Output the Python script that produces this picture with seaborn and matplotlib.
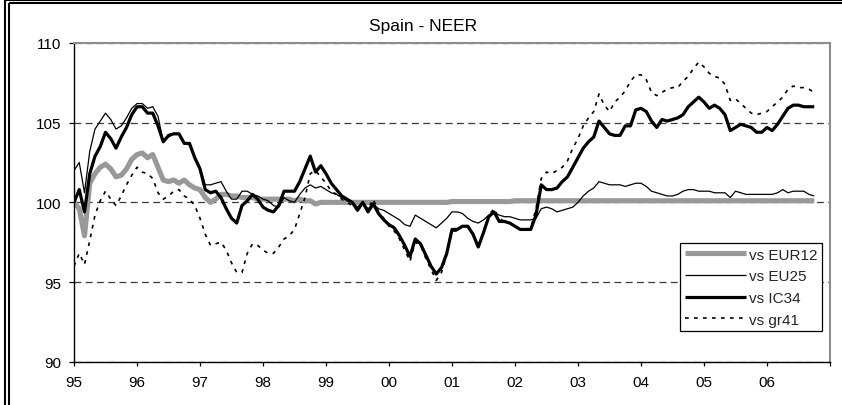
import numpy as np
import pandas as pd
import matplotlib
matplotlib.use("Agg")
import matplotlib.pyplot as plt
import seaborn as sns
from matplotlib.lines import Line2D

# ---------------- data (monthly, Jan 1995 - Oct 2006) ----------------
eur12 = [
    100.0, 99.6, 97.9, 101.2, 101.8, 102.2, 102.4, 102.1, 101.6, 101.7, 102.1, 102.7,   # 1995
    103.0, 103.1, 102.8, 103.0, 102.2, 101.4, 101.3, 101.4, 101.2, 101.4, 101.1, 100.9,  # 1996
    100.8, 100.3, 100.0, 100.2, 100.5, 100.5, 100.4, 100.4, 100.3, 100.3, 100.3, 100.2,  # 1997
    100.2, 100.2, 100.2, 100.2, 100.2, 100.2, 100.1, 100.2, 100.1, 100.1, 99.9, 100.0,   # 1998
    100.0, 100.0, 100.0, 100.0, 100.0, 100.0, 100.0, 100.0, 100.0, 100.0, 100.0, 100.0,  # 1999
    100.0, 100.0, 100.0, 100.0, 100.0, 100.0, 100.0, 100.0, 100.0, 100.0, 100.0, 100.0,  # 2000
    100.05, 100.05, 100.05, 100.05, 100.05, 100.05, 100.05, 100.05, 100.05, 100.05, 100.05, 100.05,  # 2001
    100.1, 100.1, 100.1, 100.1, 100.1, 100.1, 100.1, 100.1, 100.1, 100.1, 100.1, 100.1,  # 2002
    100.1, 100.1, 100.1, 100.1, 100.1, 100.1, 100.1, 100.1, 100.1, 100.1, 100.1, 100.1,  # 2003
    100.1, 100.1, 100.1, 100.1, 100.1, 100.1, 100.1, 100.1, 100.1, 100.1, 100.1, 100.1,  # 2004
    100.1, 100.1, 100.1, 100.1, 100.1, 100.1, 100.1, 100.1, 100.1, 100.1, 100.1, 100.1,  # 2005
    100.1, 100.1, 100.1, 100.1, 100.1, 100.1, 100.1, 100.1, 100.1, 100.1,                # 2006
]
eu25 = [
    102.0, 102.5, 100.6, 103.2, 104.6, 105.1, 105.6, 105.2, 104.6, 104.8, 105.3, 105.9,
    106.2, 106.2, 105.9, 106.0, 105.4, 103.8, 104.1, 104.3, 104.3, 103.7, 103.6, 102.9,
    102.2, 101.1, 101.1, 101.2, 101.3, 100.7, 100.2, 100.2, 100.7, 100.7, 100.5, 100.4,
    100.2, 100.1, 99.8, 99.7, 100.3, 100.1, 100.0, 100.5, 100.9, 101.1, 100.9, 101.0,
    100.8, 100.6, 100.5, 100.3, 100.1, 100.0, 99.7, 100.0, 99.6, 99.9, 99.6, 99.5,
    99.3, 99.1, 98.9, 98.6, 98.5, 99.2, 99.0, 98.8, 98.6, 98.4, 98.7, 99.0,
    99.4, 99.4, 99.3, 99.0, 98.8, 98.7, 98.9, 99.2, 99.3, 99.2, 99.1, 99.1,
    99.0, 98.9, 98.9, 98.9, 99.0, 99.6, 99.7, 99.6, 99.4, 99.5, 99.6, 99.7,
    100.0, 100.4, 100.7, 100.9, 101.3, 101.2, 101.1, 101.1, 101.1, 101.0, 101.1, 101.2,
    101.2, 101.0, 100.7, 100.6, 100.5, 100.4, 100.4, 100.5, 100.7, 100.8, 100.8, 100.7,
    100.7, 100.7, 100.6, 100.6, 100.6, 100.3, 100.7, 100.6, 100.5, 100.5, 100.5, 100.5,
    100.5, 100.5, 100.6, 100.8, 100.6, 100.7, 100.7, 100.7, 100.5, 100.4,
]
ic34 = [
    100.0, 100.8, 99.4, 101.8, 102.9, 103.5, 104.4, 104.0, 103.4, 104.1, 104.7, 105.5,
    106.0, 106.0, 105.6, 105.6, 104.8, 103.8, 104.2, 104.3, 104.3, 103.7, 103.7, 102.8,
    102.1, 100.8, 100.6, 100.7, 100.3, 99.6, 99.0, 98.7, 99.8, 100.1, 100.5, 100.2,
    99.7, 99.5, 99.4, 99.8, 100.7, 100.7, 100.7, 101.3, 102.1, 102.9, 101.9, 102.3,
    101.8, 101.2, 100.8, 100.4, 100.2, 100.0, 99.5, 100.0, 99.4, 99.9, 99.3, 98.9,
    98.6, 98.4, 97.9, 97.3, 96.6, 97.7, 97.4, 96.7, 96.0, 95.5, 95.9, 96.8,
    98.3, 98.3, 98.5, 98.5, 98.0, 97.2, 98.1, 99.1, 99.4, 98.8, 98.8, 98.7,
    98.5, 98.3, 98.3, 98.3, 99.2, 101.1, 100.8, 100.8, 100.9, 101.3, 101.6, 102.2,
    102.8, 103.4, 103.8, 104.1, 105.1, 104.7, 104.3, 104.2, 104.2, 104.8, 104.8, 105.8,
    105.9, 105.7, 105.1, 104.7, 105.2, 105.1, 105.2, 105.3, 105.5, 106.0, 106.3, 106.6,
    106.3, 105.9, 106.1, 105.9, 105.5, 104.5, 104.7, 104.9, 104.8, 104.7, 104.4, 104.4,
    104.7, 104.5, 104.9, 105.4, 105.9, 106.1, 106.1, 106.0, 106.0, 106.0,
]
gr41 = [
    96.0, 96.8, 96.1, 97.6, 99.2, 100.1, 100.7, 100.2, 99.8, 100.4, 101.1, 101.7,
    102.2, 101.9, 101.8, 101.5, 100.6, 100.2, 100.4, 100.7, 100.8, 100.4, 100.2, 99.8,
    99.0, 98.0, 97.3, 97.4, 97.5, 97.0, 96.2, 95.6, 95.6, 96.8, 97.4, 97.3,
    97.0, 96.8, 96.8, 97.2, 97.7, 97.9, 98.3, 99.3, 100.3, 101.8, 102.0, 101.6,
    101.2, 100.7, 100.5, 100.2, 100.0, 99.8, 99.6, 99.8, 99.6, 100.2, 99.4, 99.0,
    98.5, 98.2, 97.7, 97.0, 96.3, 97.5, 97.3, 96.5, 95.8, 95.1, 95.6, 96.7,
    98.2, 98.2, 98.5, 98.6, 98.0, 97.1, 98.2, 99.2, 99.6, 99.0, 98.8, 98.7,
    98.5, 98.3, 98.3, 98.4, 99.6, 101.5, 101.9, 101.8, 102.0, 102.2, 102.6, 103.4,
    104.0, 104.8, 105.3, 105.7, 106.8, 106.1, 105.7, 106.3, 106.6, 107.0, 107.6, 108.0,
    108.0, 107.7, 106.9, 106.7, 106.9, 107.1, 107.2, 107.2, 107.6, 107.9, 108.4, 108.8,
    108.5, 108.1, 107.9, 107.8, 107.4, 106.4, 106.5, 106.2, 105.9, 105.6, 105.5, 105.6,
    105.7, 106.0, 106.3, 106.6, 107.1, 107.3, 107.2, 107.2, 107.1, 106.9,
]
series_names = ["vs EUR12", "vs EU25", "vs IC34", "vs gr41"]
series_values = [eur12, eu25, ic34, gr41]
year_ticks = list(range(1995, 2008))
year_labels = ["95", "96", "97", "98", "99", "00", "01", "02", "03", "04", "05", "06", ""]
y_ticks = [90, 95, 100, 105, 110]
title = "Spain - NEER"

n = len(eur12)
t = 1995 + np.arange(n) / 12.0
df = pd.concat(
    [pd.DataFrame({"t": t, "value": v, "series": name}) for name, v in zip(series_names, series_values)],
    ignore_index=True,
)

# ---------------- plot ----------------
sns.set_theme(style="white")
plt.rcParams["font.family"] = ["Liberation Sans", "DejaVu Sans"]

W, H = 842, 406
fig = plt.figure(figsize=(W / 100, H / 100), dpi=100)
L, R, T, B = 74, 830, 44, 362.7
ax = fig.add_axes([L / W, 1 - B / H, (R - L) / W, (B - T) / H])

styles = {
    "vs EUR12": dict(color="#999999", lw=3.7, ls="-"),
    "vs EU25": dict(color="black", lw=0.9, ls="-"),
    "vs IC34": dict(color="black", lw=2.3, ls="-"),
    "vs gr41": dict(color="black", lw=1.2, ls=(0, (2.2, 3.2))),
}
for name in series_names:
    st = styles[name]
    sns.lineplot(data=df[df["series"] == name], x="t", y="value", ax=ax,
                 color=st["color"], linewidth=st["lw"], linestyle=st["ls"],
                 label=name, solid_joinstyle="round", solid_capstyle="butt")

ax.set_xlim(1995, 2007)
ax.set_ylim(90, 110)
ax.set_xticks(year_ticks)
ax.set_xticklabels(year_labels)
ax.set_yticks(y_ticks)
ax.set_xlabel("")
ax.set_ylabel("")

ax.set_axisbelow(True)
ax.grid(axis="y", color="#3a3a3a", linestyle=(0, (5.5, 3.5)), linewidth=0.9)
ax.grid(axis="x", visible=False)

for side in ["left", "bottom"]:
    ax.spines[side].set_color("black")
    ax.spines[side].set_linewidth(1.0)
for side in ["top", "right"]:
    ax.spines[side].set_color("#8c8c8c")
    ax.spines[side].set_linewidth(1.5)

ax.tick_params(axis="both", which="major", direction="out", color="black",
               labelsize=11, labelcolor="black", width=0.9)
ax.tick_params(axis="y", length=3.5, pad=5.5, left=True)
ax.tick_params(axis="x", length=2.8, pad=6.5, bottom=True)

leg = ax.legend(loc="upper right", bbox_to_anchor=((822 - L) / (R - L), (B - 244) / (B - T)),
                borderaxespad=0, frameon=True, fancybox=False, fontsize=11,
                handlelength=4.0, handletextpad=0.2, borderpad=0.3, labelspacing=0.5,
                edgecolor="black", facecolor="white", framealpha=1)
leg.get_frame().set_linewidth(0.9)

fig.text(423 / W, 1 - 30.7 / H, title, ha="center", va="baseline", fontsize=12.5, color="black")

# double frame (top and left edges of the original chart border)
def px_line(x0, y0, x1, y1, lw):
    fig.add_artist(Line2D([x0 / W, x1 / W], [1 - y0 / H, 1 - y1 / H],
                          transform=fig.transFigure, color="black", lw=lw,
                          solid_capstyle="butt"))

px_line(4, 0.9, W, 0.9, 1.5)
px_line(5.0, 0, 5.0, H, 1.5)
px_line(8.5, 4.3, W, 4.3, 1.5)
px_line(8.5, 4.3, 8.5, H, 1.5)

fig.savefig("out.png", dpi=100)
